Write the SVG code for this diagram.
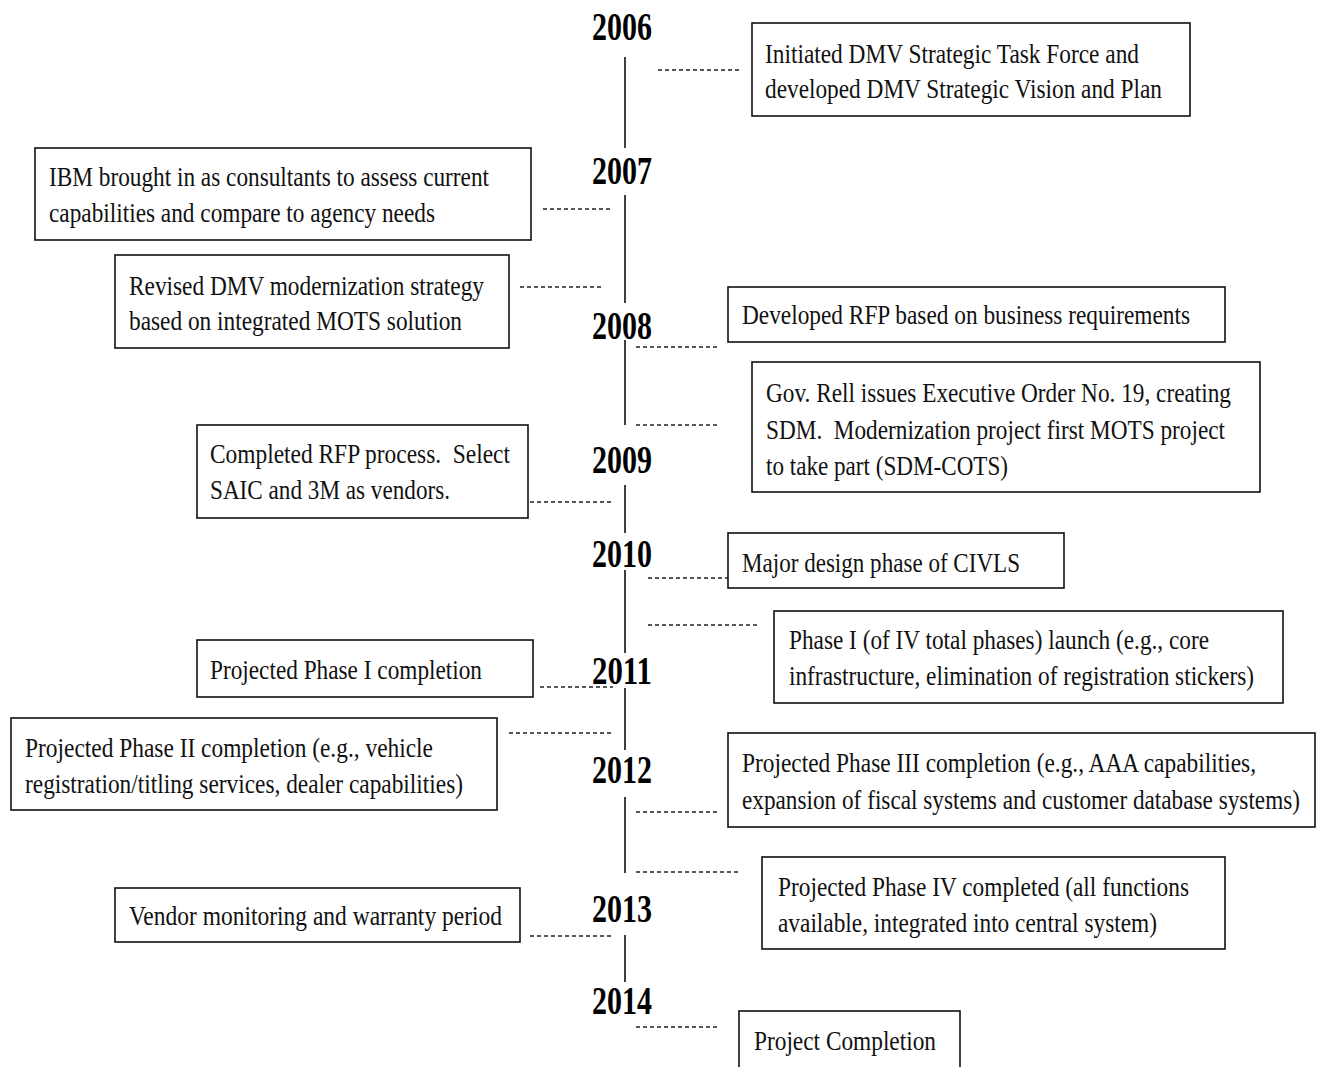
<svg xmlns="http://www.w3.org/2000/svg" width="1317" height="1067" viewBox="0 0 1317 1067">
<style>
.box{fill:#fff;stroke:#111;stroke-width:1.6}
.t{font-family:"Liberation Serif","Times New Roman",serif;font-size:28px;fill:#111;white-space:pre}
.y{font-family:"Liberation Serif","Times New Roman",serif;font-size:41px;font-weight:bold;fill:#000}
.dash{stroke:#222;stroke-width:1.3;stroke-dasharray:4 3;fill:none}
.line{stroke:#111;stroke-width:1.6;fill:none}
</style>
<rect width="1317" height="1067" fill="#fff"/>
<g id="timeline">
<path class="line" d="M625 57V148M625 195V303M625 340V425M625 485V533M625 570V653M625 688V750M625 797V873M625 935V982"/>
</g>
<g id="years">
<text class="y" x="592" y="40" textLength="60" lengthAdjust="spacingAndGlyphs">2006</text>
<text class="y" x="592" y="184" textLength="60" lengthAdjust="spacingAndGlyphs">2007</text>
<text class="y" x="592" y="339" textLength="60" lengthAdjust="spacingAndGlyphs">2008</text>
<text class="y" x="592" y="473" textLength="60" lengthAdjust="spacingAndGlyphs">2009</text>
<text class="y" x="592" y="567" textLength="60" lengthAdjust="spacingAndGlyphs">2010</text>
<text class="y" x="592" y="684" textLength="60" lengthAdjust="spacingAndGlyphs">2011</text>
<text class="y" x="592" y="783" textLength="60" lengthAdjust="spacingAndGlyphs">2012</text>
<text class="y" x="592" y="922" textLength="60" lengthAdjust="spacingAndGlyphs">2013</text>
<text class="y" x="592" y="1014" textLength="60" lengthAdjust="spacingAndGlyphs">2014</text>
</g>
<g id="connectors">
<path class="dash" d="M658 70H740"/>
<path class="dash" d="M543 209H613"/>
<path class="dash" d="M520 287H602"/>
<path class="dash" d="M636 347H718"/>
<path class="dash" d="M636 425H718"/>
<path class="dash" d="M530 502H613"/>
<path class="dash" d="M648 578H728"/>
<path class="dash" d="M648 625H760"/>
<path class="dash" d="M540 687H613"/>
<path class="dash" d="M509 733H613"/>
<path class="dash" d="M636 812H718"/>
<path class="dash" d="M636 872H738"/>
<path class="dash" d="M530 936H613"/>
<path class="dash" d="M636 1027H718"/>
</g>
<g id="n2006">
<rect class="box" x="752" y="23" width="438" height="93"/>
<text class="t" x="765" y="63" textLength="374" lengthAdjust="spacingAndGlyphs">Initiated DMV Strategic Task Force and</text>
<text class="t" x="765" y="98" textLength="397" lengthAdjust="spacingAndGlyphs">developed DMV Strategic Vision and Plan</text>
</g>
<g id="nIBM">
<rect class="box" x="35" y="148" width="496" height="92"/>
<text class="t" x="49" y="186" textLength="440" lengthAdjust="spacingAndGlyphs">IBM brought in as consultants to assess current</text>
<text class="t" x="49" y="222" textLength="386" lengthAdjust="spacingAndGlyphs">capabilities and compare to agency needs</text>
</g>
<g id="nRevised">
<rect class="box" x="115" y="255" width="394" height="93"/>
<text class="t" x="129" y="295" textLength="355" lengthAdjust="spacingAndGlyphs">Revised DMV modernization strategy</text>
<text class="t" x="129" y="330" textLength="333" lengthAdjust="spacingAndGlyphs">based on integrated MOTS solution</text>
</g>
<g id="nRFP">
<rect class="box" x="728" y="287" width="497" height="55"/>
<text class="t" x="742" y="324" textLength="448" lengthAdjust="spacingAndGlyphs">Developed RFP based on business requirements</text>
</g>
<g id="nGov">
<rect class="box" x="752" y="362" width="508" height="130"/>
<text class="t" x="766" y="402" textLength="465" lengthAdjust="spacingAndGlyphs">Gov. Rell issues Executive Order No. 19, creating</text>
<text class="t" x="766" y="439" textLength="459" lengthAdjust="spacingAndGlyphs">SDM.&#160; Modernization project first MOTS project</text>
<text class="t" x="766" y="475" textLength="242" lengthAdjust="spacingAndGlyphs">to take part (SDM-COTS)</text>
</g>
<g id="nCompleted">
<rect class="box" x="197" y="425" width="331" height="93"/>
<text class="t" x="210" y="463" textLength="300" lengthAdjust="spacingAndGlyphs">Completed RFP process.&#160; Select</text>
<text class="t" x="210" y="499" textLength="240" lengthAdjust="spacingAndGlyphs">SAIC and 3M as vendors.</text>
</g>
<g id="nMajor">
<rect class="box" x="728" y="533" width="336" height="55"/>
<text class="t" x="742" y="572" textLength="278" lengthAdjust="spacingAndGlyphs">Major design phase of CIVLS</text>
</g>
<g id="nPhase1">
<rect class="box" x="774" y="611" width="509" height="92"/>
<text class="t" x="789" y="649" textLength="420" lengthAdjust="spacingAndGlyphs">Phase I (of IV total phases) launch (e.g., core</text>
<text class="t" x="789" y="685" textLength="465" lengthAdjust="spacingAndGlyphs">infrastructure, elimination of registration stickers)</text>
</g>
<g id="nProj1">
<rect class="box" x="197" y="640" width="336" height="57"/>
<text class="t" x="210" y="679" textLength="272" lengthAdjust="spacingAndGlyphs">Projected Phase I completion</text>
</g>
<g id="nPhase2">
<rect class="box" x="11" y="718" width="486" height="92"/>
<text class="t" x="25" y="757" textLength="408" lengthAdjust="spacingAndGlyphs">Projected Phase II completion (e.g., vehicle</text>
<text class="t" x="25" y="793" textLength="438" lengthAdjust="spacingAndGlyphs">registration/titling services, dealer capabilities)</text>
</g>
<g id="nPhase3">
<rect class="box" x="728" y="733" width="587" height="94"/>
<text class="t" x="742" y="772" textLength="514" lengthAdjust="spacingAndGlyphs">Projected Phase III completion (e.g., AAA capabilities,</text>
<text class="t" x="742" y="809" textLength="558" lengthAdjust="spacingAndGlyphs">expansion of fiscal systems and customer database systems)</text>
</g>
<g id="nPhase4">
<rect class="box" x="762" y="857" width="463" height="92"/>
<text class="t" x="778" y="896" textLength="411" lengthAdjust="spacingAndGlyphs">Projected Phase IV completed (all functions</text>
<text class="t" x="778" y="932" textLength="379" lengthAdjust="spacingAndGlyphs">available, integrated into central system)</text>
</g>
<g id="nVendor">
<rect class="box" x="115" y="888" width="405" height="54"/>
<text class="t" x="129" y="925" textLength="373" lengthAdjust="spacingAndGlyphs">Vendor monitoring and warranty period</text>
</g>
<g id="nCompletion">
<rect class="box" x="739" y="1011" width="221" height="70"/>
<text class="t" x="754" y="1050" textLength="182" lengthAdjust="spacingAndGlyphs">Project Completion</text>
</g>
</svg>
